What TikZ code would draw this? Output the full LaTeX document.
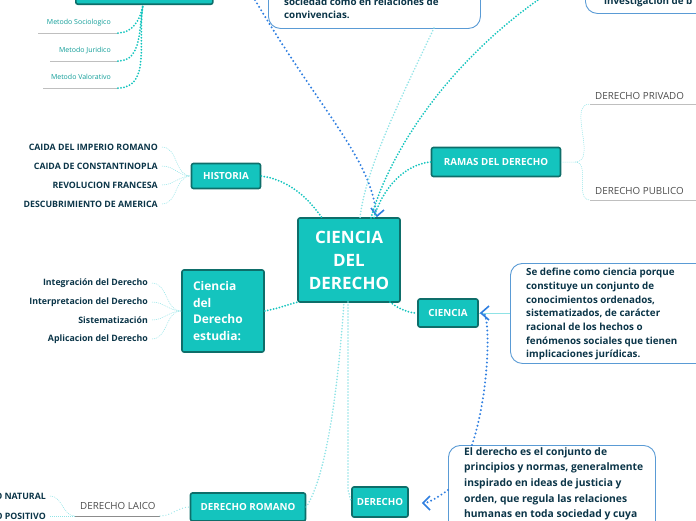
\documentclass[tikz,border=0pt]{standalone}
\usepackage{fontspec}
\setmainfont{Open Sans}
\definecolor{teal1}{HTML}{14C4BE}
\definecolor{teald}{HTML}{0E6E6A}
\definecolor{txt}{HTML}{0B3548}
\definecolor{cb}{HTML}{5A9BD5}
\definecolor{ab}{HTML}{2F7FE0}
\definecolor{lt}{HTML}{8FE3E6}
\begin{document}
\begin{tikzpicture}[x=1pt,y=-1pt,
 box/.style={draw=teald,fill=teal1,line width=1.6pt,rounded corners=2pt,text=white,font=\bfseries\fontsize{9.8}{11}\selectfont,inner sep=0pt},
 callout/.style={draw=cb,fill=white,line width=0.9pt,rounded corners=12pt,inner sep=0pt,anchor=north west},
 ctext/.style={text=txt,font=\bfseries\fontsize{9.8}{13.7}\selectfont,align=left,anchor=north west,inner sep=0pt},
 leaf/.style={text=txt,font=\bfseries\fontsize{8.8}{10}\selectfont,anchor=east,inner sep=0pt},
 uleaf/.style={text=black!70,font=\fontsize{9.8}{11}\selectfont,inner sep=0pt},
 small/.style={text=teal1!80!black,font=\fontsize{7}{8}\selectfont,inner sep=0pt},
 con/.style={teal1,line width=2pt,line cap=round,dash pattern=on 0pt off 3pt},
 lcon/.style={lt,line width=1.8pt,line cap=round,dash pattern=on 0pt off 3pt},
 thin/.style={lt,line width=0.5pt,dash pattern=on 1pt off 1pt},
 blue/.style={ab,line width=2.2pt,line cap=round,dash pattern=on 0pt off 4pt},
 arr/.style={ab,line width=1.6pt}]
\useasboundingbox (0,0) rectangle (696,520);
\clip (0,0) rectangle (696,520);
% top partial nodes
\node[box,minimum width=137pt,minimum height=40pt,anchor=south west] (topbox) at (75,5) {};
\node[callout,minimum width=212pt,minimum height=60pt] (cTop) at (268,-32) {};
\node[ctext,font=\bfseries\fontsize{9.8}{12.5}\selectfont] (cTopT) at (284,-2) {sociedad como en relaciones de\\convivencias.};
\node[callout,minimum width=140pt,minimum height=45pt] (cTR) at (585,-32) {};
\node[ctext] (cTRT) at (604,-3) {investigación de b};
% metodo
\node[small,anchor=east] (m1) at (111,23) {Metodo Sociologico};
\node[small,anchor=east] (m2) at (111,50) {Metodo Juridico};
\node[small,anchor=east] (m3) at (111,77) {Metodo Valorativo};
\coordinate (m1e) at (118,33); \coordinate (m2e) at (118,61); \coordinate (m3e) at (118,88);
\draw[black!25,line width=0.6pt] (38,33) -- (m1e) (50,61) -- (m2e) (43,88) -- (m3e);
\coordinate (tb) at (143,5);
\foreach \m in {m1e,m2e,m3e} \draw[con] (\m) to[out=0,in=-100] (tb);
% center
\node[box,minimum width=102pt,minimum height=84pt,align=center,font=\bfseries\fontsize{17}{23}\selectfont] (C) at (349,260) {CIENCIA\\DEL\\DERECHO};
% top connectors
\draw[blue] (255,0) .. controls (320,110) and (372,160) .. (376,214);
\draw[arr] (371,208) -- (377,216) -- (384,210);
\draw[lcon] (434,28) .. controls (400,100) and (365,170) .. (360,218);
\draw[con] (545,-5) .. controls (450,60) and (390,150) .. (371,218);
% historia
\node[box,minimum width=69pt,minimum height=25pt] (H) at (226,176) {HISTORIA};
\node[leaf] (h1) at (158,147) {CAIDA DEL IMPERIO ROMANO};
\node[leaf] (h2) at (158,166) {CAIDA DE CONSTANTINOPLA};
\node[leaf] (h3) at (158,185) {REVOLUCION FRANCESA};
\node[leaf] (h4) at (158,204) {DESCUBRIMIENTO DE AMERICA};
\foreach \h in {h1,h2,h3,h4} \draw[thin] ([xshift=4pt]\h.east) to[out=0,in=180] (H.west);
\draw[con] (H.east) .. controls (290,180) and (310,200) .. (322,218);
% ramas
\node[box,minimum width=129pt,minimum height=29pt] (R) at (496,162) {RAMAS DEL DERECHO};
\node[uleaf,anchor=west] (r1) at (595,96) {DERECHO PRIVADO};
\node[uleaf,anchor=west] (r2) at (595,191) {DERECHO PUBLICO};
\draw[black!25,line width=0.6pt] (590,104) -- (696,104) (590,200) -- (696,200);
\draw[thin] (R.east) -- (575,162) to[out=0,in=180] (590,104);
\draw[thin] (575,162) to[out=0,in=180] (590,200);
\draw[con] (R.west) .. controls (400,165) and (380,195) .. (374,218);
% estudia
\node[box,minimum width=82pt,minimum height=82pt,align=left,font=\bfseries\fontsize{12}{16.5}\selectfont,text width=60pt] (E) at (223,311) {Ciencia\\del\\Derecho\\estudia:};
\node[leaf] (e1) at (148,283) {Integración del Derecho};
\node[leaf] (e2) at (148,302) {Interpretacion del Derecho};
\node[leaf] (e3) at (148,320) {Sistematización};
\node[leaf] (e4) at (148,339) {Aplicacion del Derecho};
\foreach \e in {e1,e2,e3,e4} \draw[thin] ([xshift=4pt]\e.east) to[out=0,in=180] (E.west);
\draw[con] (E.east) .. controls (280,308) and (290,304) .. (298,302);
% ciencia
\node[box,minimum width=60pt,minimum height=28pt] (Ci) at (448,313) {CIENCIA};
\draw[con] (390,302) .. controls (400,310) and (410,313) .. (Ci.west);
\node[callout,minimum width=200pt,minimum height=100pt] (c1) at (510,263) {};
\node[ctext] (c1t) at (526,268) {Se define como ciencia porque\\constituye un conjunto de\\conocimientos ordenados,\\sistematizados, de carácter\\racional de los hechos o\\fenómenos sociales que tienen\\implicaciones jurídicas.};
\draw[lt,line width=0.5pt] (c1.west |- Ci.east) -- (Ci.east);
% derecho
\node[box,minimum width=56pt,minimum height=30pt] (D) at (380,502) {DERECHO};
\draw[lcon] (348,302) -- (348,490) -- (D.west);
\node[callout,minimum width=207pt,minimum height=100pt] (c2) at (448,445) {};
\node[ctext,font=\bfseries\fontsize{10.3}{15.7}\selectfont] (c2t) at (464,447) {El derecho es el conjunto de\\principios y normas, generalmente\\inspirado en ideas de justicia y\\orden, que regula las relaciones\\humanas en toda sociedad y cuya};
\draw[blue] (472,445) .. controls (490,390) and (490,320) .. (484,313);
\draw[arr] (489,306) -- (481,313) -- (489,320);
\draw[blue] (c2.west |- 0,490) .. controls (440,496) and (430,502) .. (425,503);
\draw[arr] (430,496) -- (423,503) -- (430,510);
% romano
\node[box,minimum width=115pt,minimum height=28pt] (DR) at (248,507) {DERECHO ROMANO};
\draw[lcon] (DR.east) .. controls (330,470) and (340,360) .. (344,302);
\node[uleaf,anchor=west] (dl) at (80,506) {DERECHO LAICO};
\draw[black!45,line width=0.8pt] (75,516) -- (160,516);
\draw[lcon,line width=1.2pt] (160,516) to[out=0,in=180] (DR.west);
\node[leaf] (n1) at (46,496) {DERECHO NATURAL};
\node[leaf] (n2) at (46,516) {DERECHO POSITIVO};
\draw[thin] (50,496) to[out=0,in=180] (75,516);
\draw[thin] (50,516) -- (75,516);
\end{tikzpicture}
\end{document}
